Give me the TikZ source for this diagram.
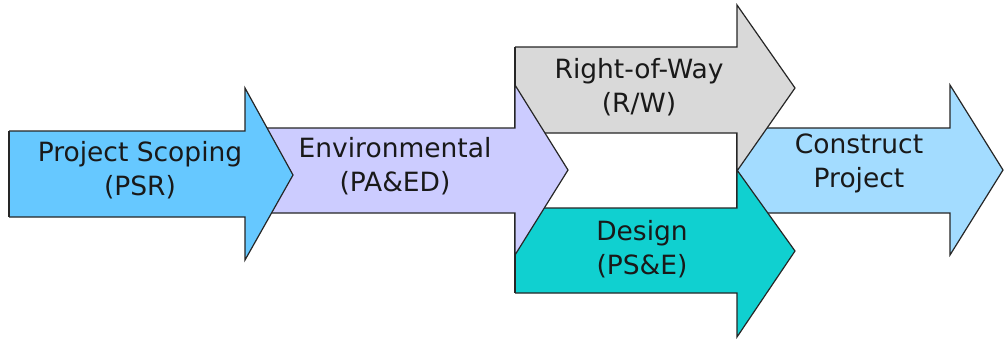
\documentclass[tikz,border=0pt]{standalone}
\usepackage{fontspec}
\setmainfont{DejaVu Sans}
\definecolor{cscope}{HTML}{66C8FF}
\definecolor{cenv}{HTML}{CCCCFF}
\definecolor{crow}{HTML}{D9D9D9}
\definecolor{cdes}{HTML}{10D0D0}
\definecolor{ccon}{HTML}{A3DCFF}
\tikzset{
  arrowshape/.style={draw=black!85, line width=1.2pt, line join=miter},
  lbl/.style={align=center, inner sep=0pt, font=\fontsize{26.5}{34}\selectfont, text=black!90},
}
% #1 fill, #2 L, #3 T, #4 B, #5 H, #6 HT, #7 HB, #8 tip x, #9 tip y
\newcommand{\bigarrow}[9]{%
  \fill[#1] (#2,#3) -- (#5,#3) -- (#5,#6) -- (#8,#9) -- (#5,#7) -- (#5,#4) -- (#2,#4) -- cycle;
  \draw[arrowshape] (#2,#3) -- (#5,#3) -- (#5,#6) -- (#8,#9) -- (#5,#7) -- (#5,#4) -- (#2,#4);
  \draw[arrowshape] (#2,#3) -- (#2,#4);
}
\begin{document}
\begin{tikzpicture}[x=1pt,y=-1pt]
\useasboundingbox (0,0) rectangle (1004,341);
\fill[white] (0,0) rectangle (1004,341);
% Construct Project
\bigarrow{ccon}{737}{128}{213}{950}{85}{255}{1003}{170}
% Right-of-Way
\bigarrow{crow}{515}{47}{133}{737}{5}{171}{795}{88}
% Design
\bigarrow{cdes}{515}{208}{293}{737}{170}{337}{795}{251}
% Environmental
\bigarrow{cenv}{262}{128}{213}{515}{85}{255}{568}{170}
% Project Scoping
\bigarrow{cscope}{9}{131}{217}{245}{88}{260}{293}{175}
\node[lbl] (scope) at (140,170) {Project Scoping\\(PSR)};
\node[lbl] (env) at (395,166.5) {Environmental\\(PA\&ED)};
\node[lbl] (row) at (639,87) {Right-of-Way\\(R/W)};
\node[lbl] (des) at (642,249) {Design\\(PS\&E)};
\node[lbl] (con) at (859,163) {Construct\\Project};
\end{tikzpicture}
\end{document}
